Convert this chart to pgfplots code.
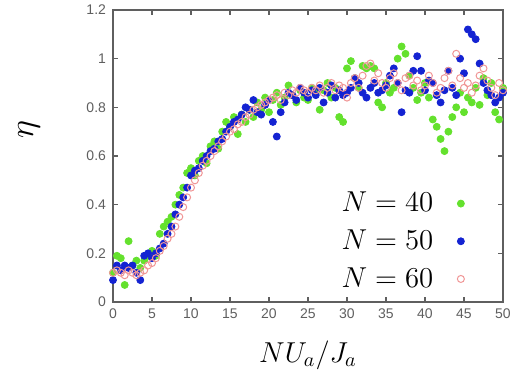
\documentclass[border=0pt]{standalone}
\usepackage{pgfplots}
\pgfplotsset{compat=1.18}
\usepackage{fontspec}
\newfontfamily\tickfont{Liberation Sans}
\definecolor{ngreen}{RGB}{100,225,45}
\definecolor{nblue}{RGB}{20,35,210}
\definecolor{npink}{RGB}{240,150,150}
\definecolor{axgray}{RGB}{95,95,95}
\begin{document}
\begin{tikzpicture}
\useasboundingbox (-56.5pt,-40.5pt) rectangle (201pt,151pt);
\begin{axis}[
  scale only axis,
  width=195pt, height=146pt,
  xmin=0, xmax=50, ymin=0, ymax=1.2,
  xtick={0,5,...,50},
  ytick={0,0.2,0.4,0.6,0.8,1,1.2},
  yticklabels={0,0.2,0.4,0.6,0.8,1,1.2},
  tick align=inside,
  major tick length=2.5pt,
  axis line style={axgray, line width=0.8pt},
  tick style={axgray, line width=0.6pt},
  /pgf/number format/assume math mode=true,
  tick label style={font=\tickfont\fontsize{7}{8}\selectfont, text=axgray},
  xlabel={$NU_a/J_a$},
  ylabel={$\eta$},
  xlabel style={font=\fontsize{14.5}{16}\selectfont, at={(axis description cs:0.5,0)}, anchor=center, yshift=-26.5pt},
  ylabel style={font=\fontsize{19}{22}\selectfont, at={(axis description cs:-0.215,0.59)}, anchor=center},
  legend style={draw=none, fill=none, at={(axis description cs:0.902,0.025)}, anchor=south east,
    font=\fontsize{14.5}{16}\selectfont, row sep=3.5pt, column sep=10pt, inner sep=0pt},
  legend cell align=right,
  legend plot pos=right,
  clip=true,
]
\addplot[only marks, mark=*, mark size=1.75pt, color=ngreen, mark options={draw=ngreen, fill=ngreen}] coordinates {
(0,0.12)(0.5,0.19)(1,0.18)(1.5,0.07)(2,0.25)(2.5,0.15)(3,0.17)(3.5,0.14)(4,0.17)(4.5,0.19)
(5,0.21)(5.5,0.19)(6,0.28)(6.5,0.31)(7,0.33)(7.5,0.35)(8,0.40)(8.5,0.44)(9,0.47)(9.5,0.53)
(10,0.55)(10.5,0.52)(11,0.58)(11.5,0.60)(12,0.57)(12.5,0.64)(13,0.66)(13.5,0.63)(14,0.70)(14.5,0.74)
(15,0.72)(15.5,0.76)(16,0.69)(16.5,0.77)(17,0.74)(17.5,0.79)(18,0.76)(18.5,0.82)(19,0.79)(19.5,0.84)
(20,0.78)(20.5,0.83)(21,0.86)(21.5,0.81)(22,0.84)(22.5,0.89)(23,0.85)(23.5,0.82)(24,0.87)(24.5,0.84)
(25,0.83)(25.5,0.88)(26,0.86)(26.5,0.79)(27,0.87)(27.5,0.90)(28,0.84)(28.5,0.88)(29,0.76)(29.5,0.74)
(30,0.96)(30.5,0.99)(31,0.92)(31.5,0.88)(32,0.97)(32.5,0.96)(33,0.97)(33.5,0.96)(34,0.82)(34.5,0.80)
(35,0.90)(35.5,0.86)(36,0.88)(36.5,1.00)(37,1.05)(37.5,1.02)(38,0.93)(38.5,0.88)(39,0.83)(39.5,0.86)
(40,0.90)(40.5,0.84)(41,0.75)(41.5,0.72)(42,0.67)(42.5,0.62)(43,0.70)(43.5,0.76)(44,0.80)(44.5,0.86)
(45,0.78)(45.5,0.84)(46,0.82)(46.5,0.88)(47,0.81)(47.5,0.92)(48,0.85)(48.5,0.90)(49,0.78)(49.5,0.75)
(50,0.88)
};
\addlegendentry{$N=40$}
\addplot[only marks, mark=*, mark size=1.75pt, color=nblue, mark options={draw=nblue, fill=nblue}] coordinates {
(0,0.09)(0.5,0.15)(1,0.13)(1.5,0.15)(2,0.14)(2.5,0.15)(3,0.12)(3.5,0.09)(4,0.19)(4.5,0.20)
(5,0.18)(5.5,0.20)(6,0.22)(6.5,0.24)(7,0.28)(7.5,0.31)(8,0.36)(8.5,0.40)(9,0.43)(9.5,0.47)
(10,0.52)(10.5,0.54)(11,0.55)(11.5,0.58)(12,0.60)(12.5,0.62)(13,0.63)(13.5,0.66)(14,0.67)(14.5,0.70)
(15,0.72)(15.5,0.74)(16,0.75)(16.5,0.77)(17,0.80)(17.5,0.79)(18,0.83)(18.5,0.78)(19,0.77)(19.5,0.81)
(20,0.83)(20.5,0.74)(21,0.68)(21.5,0.78)(22,0.82)(22.5,0.86)(23,0.85)(23.5,0.83)(24,0.88)(24.5,0.86)
(25,0.84)(25.5,0.87)(26,0.85)(26.5,0.88)(27,0.82)(27.5,0.86)(28,0.89)(28.5,0.84)(29,0.87)(29.5,0.85)
(30,0.86)(30.5,0.88)(31,0.92)(31.5,0.90)(32,0.86)(32.5,0.84)(33,0.88)(33.5,0.90)(34,0.86)(34.5,0.87)
(35,0.89)(35.5,0.93)(36,0.96)(36.5,0.90)(37,0.78)(37.5,0.87)(38,0.86)(38.5,0.95)(39,1.01)(39.5,0.95)
(40,0.87)(40.5,0.91)(41,0.90)(41.5,0.85)(42,0.82)(42.5,0.87)(43,0.95)(43.5,0.88)(44,0.85)(44.5,1.00)
(45,0.94)(45.5,1.12)(46,1.10)(46.5,1.08)(47,0.98)(47.5,0.90)(48,0.87)(48.5,0.85)(49,0.82)(49.5,0.84)
(50,0.86)
};
\addlegendentry{$N=50$}
\addplot[only marks, mark=o, mark size=1.75pt, color=npink, mark options={draw=npink, line width=0.5pt}] coordinates {
(0,0.12)(0.5,0.13)(1,0.12)(1.5,0.11)(2,0.13)(2.5,0.12)(3,0.11)(3.5,0.12)(4,0.13)(4.5,0.15)
(5,0.16)(5.5,0.18)(6,0.21)(6.5,0.23)(7,0.26)(7.5,0.28)(8,0.31)(8.5,0.35)(9,0.39)(9.5,0.43)
(10,0.47)(10.5,0.50)(11,0.53)(11.5,0.56)(12,0.58)(12.5,0.60)(13,0.62)(13.5,0.64)(14,0.66)(14.5,0.68)
(15,0.70)(15.5,0.71)(16,0.73)(16.5,0.74)(17,0.76)(17.5,0.77)(18,0.79)(18.5,0.80)(19,0.81)(19.5,0.82)
(20,0.83)(20.5,0.84)(21,0.85)(21.5,0.83)(22,0.86)(22.5,0.85)(23,0.87)(23.5,0.86)(24,0.88)(24.5,0.87)
(25,0.86)(25.5,0.88)(26,0.87)(26.5,0.89)(27,0.86)(27.5,0.88)(28,0.90)(28.5,0.87)(29,0.89)(29.5,0.88)
(30,0.84)(30.5,0.90)(31,0.92)(31.5,0.88)(32,0.93)(32.5,0.97)(33,0.98)(33.5,0.91)(34,0.94)(34.5,0.90)
(35,0.88)(35.5,0.92)(36,0.94)(36.5,0.90)(37,0.87)(37.5,0.92)(38,0.93)(38.5,0.89)(39,0.91)(39.5,0.87)
(40,0.89)(40.5,0.93)(41,0.90)(41.5,0.86)(42,0.88)(42.5,0.92)(43,0.95)(43.5,0.89)(44,1.02)(44.5,0.92)
(45,0.88)(45.5,0.90)(46,0.86)(46.5,0.89)(47,0.93)(47.5,0.96)(48,0.91)(48.5,0.88)(49,0.85)(49.5,0.90)
(50,0.87)
};
\addlegendentry{$N=60$}
\end{axis}
\end{tikzpicture}
\end{document}
